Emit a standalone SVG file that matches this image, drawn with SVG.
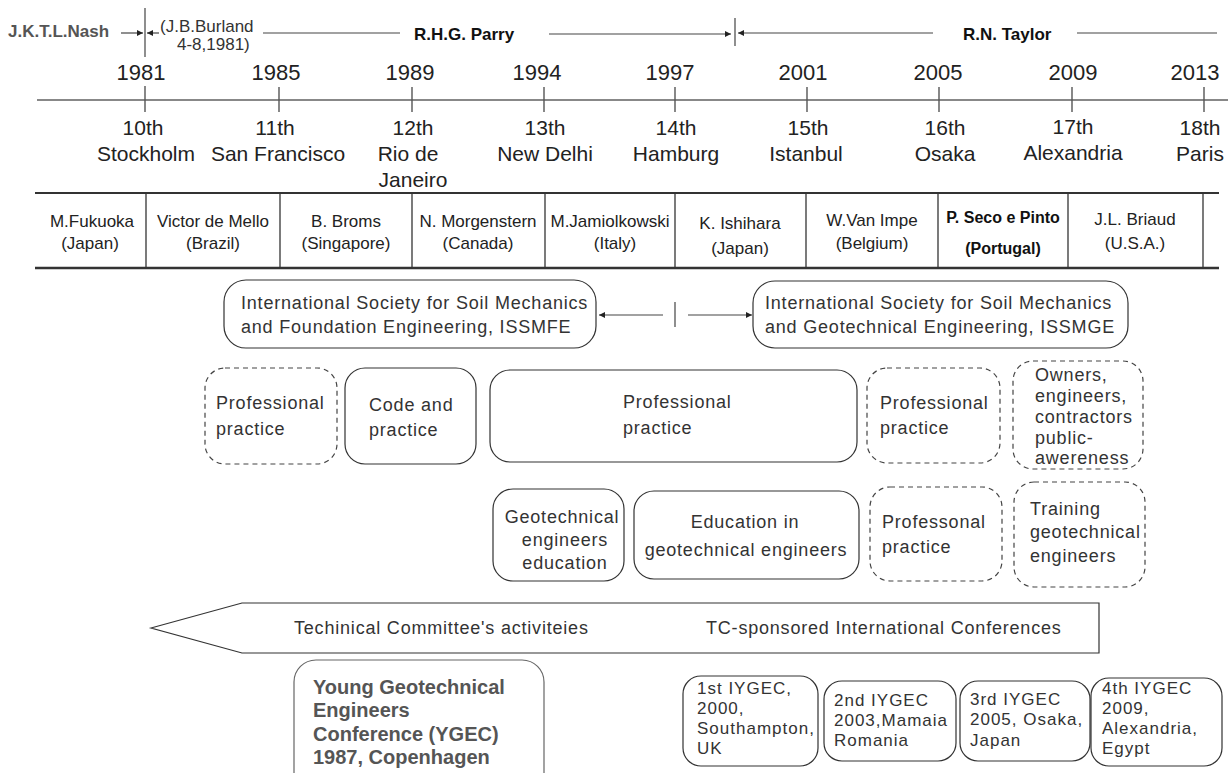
<svg xmlns="http://www.w3.org/2000/svg" width="1231" height="773" viewBox="0 0 1231 773">
<defs>
<style>
text{font-family:"Liberation Sans",Arial,sans-serif;}
.hdr{font-size:17px;font-weight:bold;fill:#111;}
.hdrg{font-size:17px;font-weight:bold;fill:#555;}
.sm{font-size:17px;fill:#333;}
.yr{font-size:22px;fill:#222;text-anchor:middle;}
.lbl{font-size:21px;fill:#222;text-anchor:middle;}
.cell{font-size:17px;fill:#222;text-anchor:middle;}
.cellb{font-size:16px;font-weight:bold;fill:#111;text-anchor:middle;}
.bx{font-size:18px;fill:#333;letter-spacing:0.8px;}
.bxc{font-size:18px;fill:#333;letter-spacing:0.8px;text-anchor:middle;}
.ib{font-size:17px;fill:#333;letter-spacing:1px;}
.yg{font-size:20px;font-weight:bold;fill:#555;}
.ln{stroke:#444;stroke-width:1.2;fill:none;}
.tick{stroke:#555;stroke-width:1.4;}
.solid{fill:none;stroke:#333;stroke-width:1.2;}
.dash{fill:none;stroke:#444;stroke-width:1.2;stroke-dasharray:5 4;}
.tb{stroke:#333;}
</style>
<marker id="ah" viewBox="0 0 10 10" refX="10" refY="5" markerWidth="8" markerHeight="6" markerUnits="userSpaceOnUse" orient="auto">
<path d="M0,0 L10,5 L0,10 z" fill="#222"/>
</marker>
</defs>
<rect width="1231" height="773" fill="#fff"/>

<g id="connectors">
<line class="ln" x1="121" y1="33" x2="143" y2="33" marker-end="url(#ah)"/>
<line class="ln" x1="145" y1="8" x2="145" y2="57"/>
<line class="ln" x1="159" y1="33" x2="147" y2="33" marker-end="url(#ah)"/>
<line class="ln" x1="263" y1="33" x2="400" y2="33"/>
<line class="ln" x1="549" y1="34" x2="731" y2="34" marker-end="url(#ah)"/>
<line class="ln" x1="735" y1="18" x2="735" y2="46"/>
<line class="ln" x1="933" y1="33" x2="738" y2="33" marker-end="url(#ah)"/>
<line class="ln" x1="1077" y1="33" x2="1217" y2="33"/>
<line x1="37" y1="100" x2="1228" y2="100" stroke="#888" stroke-width="2"/>
<line class="tick" x1="145" y1="86" x2="145" y2="112"/>
<line class="tick" x1="279" y1="87" x2="279" y2="112"/>
<line class="tick" x1="412" y1="87" x2="412" y2="112"/>
<line class="tick" x1="544" y1="87" x2="544" y2="112"/>
<line class="tick" x1="675" y1="87" x2="675" y2="112"/>
<line class="tick" x1="807" y1="87" x2="807" y2="112"/>
<line class="tick" x1="939" y1="87" x2="939" y2="112"/>
<line class="tick" x1="1072" y1="87" x2="1072" y2="112"/>
<line class="tick" x1="1204" y1="87" x2="1204" y2="112"/>
<line class="ln" x1="663" y1="315" x2="599" y2="315" marker-end="url(#ah)"/>
<line class="ln" x1="675" y1="302" x2="675" y2="327"/>
<line class="ln" x1="688" y1="315" x2="752" y2="315" marker-end="url(#ah)"/>
</g>

<g id="presidents-header">
<text class="hdrg" x="8" y="37">J.K.T.L.Nash</text>
<text class="sm" x="160" y="32">(J.B.Burland</text>
<text class="sm" x="177" y="50">4-8,1981)</text>
<text class="hdr" x="414" y="40">R.H.G. Parry</text>
<text class="hdr" x="963" y="40">R.N. Taylor</text>
</g>

<g id="conf-1981"><text class="yr" x="141" y="80">1981</text><text class="lbl" x="143" y="135">10th</text><text class="lbl" x="146" y="161">Stockholm</text></g>
<g id="conf-1985"><text class="yr" x="276" y="80">1985</text><text class="lbl" x="275" y="135">11th</text><text class="lbl" x="278" y="161">San Francisco</text></g>
<g id="conf-1989"><text class="yr" x="410" y="80">1989</text><text class="lbl" x="413" y="135">12th</text><text class="lbl" x="408" y="161">Rio de</text><text class="lbl" x="413" y="187">Janeiro</text></g>
<g id="conf-1994"><text class="yr" x="537" y="80">1994</text><text class="lbl" x="545" y="135">13th</text><text class="lbl" x="545" y="161">New Delhi</text></g>
<g id="conf-1997"><text class="yr" x="670" y="80">1997</text><text class="lbl" x="676" y="135">14th</text><text class="lbl" x="676" y="161">Hamburg</text></g>
<g id="conf-2001"><text class="yr" x="803" y="80">2001</text><text class="lbl" x="808" y="135">15th</text><text class="lbl" x="806" y="161">Istanbul</text></g>
<g id="conf-2005"><text class="yr" x="938" y="80">2005</text><text class="lbl" x="945" y="135">16th</text><text class="lbl" x="945" y="161">Osaka</text></g>
<g id="conf-2009"><text class="yr" x="1073" y="80">2009</text><text class="lbl" x="1073" y="134">17th</text><text class="lbl" x="1073" y="160">Alexandria</text></g>
<g id="conf-2013"><text class="yr" x="1195" y="80">2013</text><text class="lbl" x="1200" y="135">18th</text><text class="lbl" x="1200" y="161">Paris</text></g>

<g id="president-table">
<line class="tb" x1="35" y1="193" x2="1219" y2="193" stroke-width="2"/>
<line class="tb" x1="35" y1="268" x2="1219" y2="268" stroke-width="2.6"/>
<g stroke="#333" stroke-width="1.3">
<line x1="146" y1="193" x2="146" y2="268"/><line x1="280" y1="193" x2="280" y2="268"/><line x1="412" y1="193" x2="412" y2="268"/><line x1="545" y1="193" x2="545" y2="268"/><line x1="675" y1="193" x2="675" y2="268"/><line x1="806" y1="193" x2="806" y2="268"/><line x1="938" y1="193" x2="938" y2="268"/><line x1="1068" y1="193" x2="1068" y2="268"/><line x1="1203" y1="193" x2="1203" y2="268"/>
</g>
<g id="p-fukuoka"><text class="cell" x="92" y="227">M.Fukuoka</text><text class="cell" x="90" y="249">(Japan)</text></g>
<g id="p-demello"><text class="cell" x="213" y="227">Victor de Mello</text><text class="cell" x="213" y="249">(Brazil)</text></g>
<g id="p-broms"><text class="cell" x="346" y="227">B. Broms</text><text class="cell" x="346" y="249">(Singapore)</text></g>
<g id="p-morgenstern"><text class="cell" x="478" y="227">N. Morgenstern</text><text class="cell" x="478" y="249">(Canada)</text></g>
<g id="p-jamiolkowski"><text class="cell" x="610" y="227">M.Jamiolkowski</text><text class="cell" x="615" y="249">(Italy)</text></g>
<g id="p-ishihara"><text class="cell" x="740" y="229">K. Ishihara</text><text class="cell" x="740" y="254">(Japan)</text></g>
<g id="p-vanimpe"><text class="cell" x="872" y="226">W.Van Impe</text><text class="cell" x="872" y="249">(Belgium)</text></g>
<g id="p-seco"><text class="cellb" x="1003" y="223">P. Seco e Pinto</text><text class="cellb" x="1003" y="254">(Portugal)</text></g>
<g id="p-briaud"><text class="cell" x="1135" y="225">J.L. Briaud</text><text class="cell" x="1135" y="249">(U.S.A.)</text></g>
</g>

<g id="issmfe"><rect class="solid" x="224" y="280" width="372" height="68" rx="22"/><text class="bx" x="241" y="309">International Society for Soil Mechanics</text><text class="bx" x="241" y="333">and Foundation Engineering, ISSMFE</text></g>
<g id="issmge"><rect class="solid" x="753" y="281" width="375" height="67" rx="22"/><text class="bx" x="765" y="309">International Society for Soil Mechanics</text><text class="bx" x="765" y="333">and Geotechnical Engineering, ISSMGE</text></g>

<g id="pp1"><rect class="dash" x="205" y="368" width="132" height="96" rx="20"/><text class="bx" x="216" y="409">Professional</text><text class="bx" x="216" y="435">practice</text></g>
<g id="code"><rect class="solid" x="345" y="368" width="131" height="96" rx="20"/><text class="bx" x="369" y="411">Code and</text><text class="bx" x="369" y="436">practice</text></g>
<g id="pp2"><rect class="solid" x="490" y="370" width="367" height="92" rx="20"/><text class="bx" x="623" y="408">Professional</text><text class="bx" x="623" y="434">practice</text></g>
<g id="pp3"><rect class="dash" x="867" y="368" width="133" height="95" rx="20"/><text class="bx" x="880" y="409">Professional</text><text class="bx" x="880" y="434">practice</text></g>
<g id="owners"><rect class="dash" x="1013" y="361" width="130" height="108" rx="20"/><text class="bx" x="1035" y="381">Owners,</text><text class="bx" x="1035" y="402">engineers,</text><text class="bx" x="1035" y="423">contractors</text><text class="bx" x="1035" y="444">public-</text><text class="bx" x="1035" y="464">awereness</text></g>

<g id="gee"><rect class="solid" x="493" y="489" width="131" height="92" rx="20"/><text class="bxc" x="562" y="523">Geotechnical</text><text class="bxc" x="565" y="546">engineers</text><text class="bxc" x="565" y="569">education</text></g>
<g id="edu"><rect class="solid" x="634" y="491" width="225" height="88" rx="20"/><text class="bxc" x="745" y="528">Education in</text><text class="bxc" x="746" y="556">geotechnical engineers</text></g>
<g id="pp4"><rect class="dash" x="870" y="487" width="132" height="94" rx="20"/><text class="bx" x="882" y="528">Professonal</text><text class="bx" x="882" y="553">practice</text></g>
<g id="training"><rect class="dash" x="1014" y="482" width="131" height="105" rx="20"/><text class="bx" x="1030" y="515">Training</text><text class="bx" x="1030" y="538">geotechnical</text><text class="bx" x="1030" y="562">engineers</text></g>

<g id="tc-arrow"><polygon points="151,628 242,603 1099,603 1099,653 242,653" fill="none" stroke="#333" stroke-width="1.2"/><text class="bx" x="294" y="634">Techinical Committee's activiteies</text><text class="bx" x="706" y="634">TC-sponsored International Conferences</text></g>

<g id="ygec"><rect x="294" y="660" width="250" height="140" rx="22" fill="none" stroke="#666" stroke-width="1.2"/><text class="yg" x="313" y="694">Young Geotechnical</text><text class="yg" x="313" y="717">Engineers</text><text class="yg" x="313" y="741">Conference (YGEC)</text><text class="yg" x="313" y="764">1987, Copenhagen</text></g>

<g id="iygec1"><rect class="solid" x="683" y="676" width="135" height="90" rx="18"/><text class="ib" x="697" y="694">1st IYGEC,</text><text class="ib" x="697" y="714">2000,</text><text class="ib" x="697" y="734">Southampton,</text><text class="ib" x="697" y="754">UK</text></g>
<g id="iygec2"><rect class="solid" x="824" y="681" width="132" height="80" rx="18"/><text class="ib" x="834" y="706">2nd IYGEC</text><text class="ib" x="834" y="726">2003,Mamaia</text><text class="ib" x="834" y="746">Romania</text></g>
<g id="iygec3"><rect class="solid" x="960" y="681" width="130" height="80" rx="18"/><text class="ib" x="970" y="705">3rd IYGEC</text><text class="ib" x="970" y="725">2005, Osaka,</text><text class="ib" x="970" y="746">Japan</text></g>
<g id="iygec4"><rect class="solid" x="1091" y="678" width="131" height="88" rx="18"/><text class="ib" x="1102" y="694">4th IYGEC</text><text class="ib" x="1102" y="714">2009,</text><text class="ib" x="1102" y="734">Alexandria,</text><text class="ib" x="1102" y="754">Egypt</text></g>
</svg>
